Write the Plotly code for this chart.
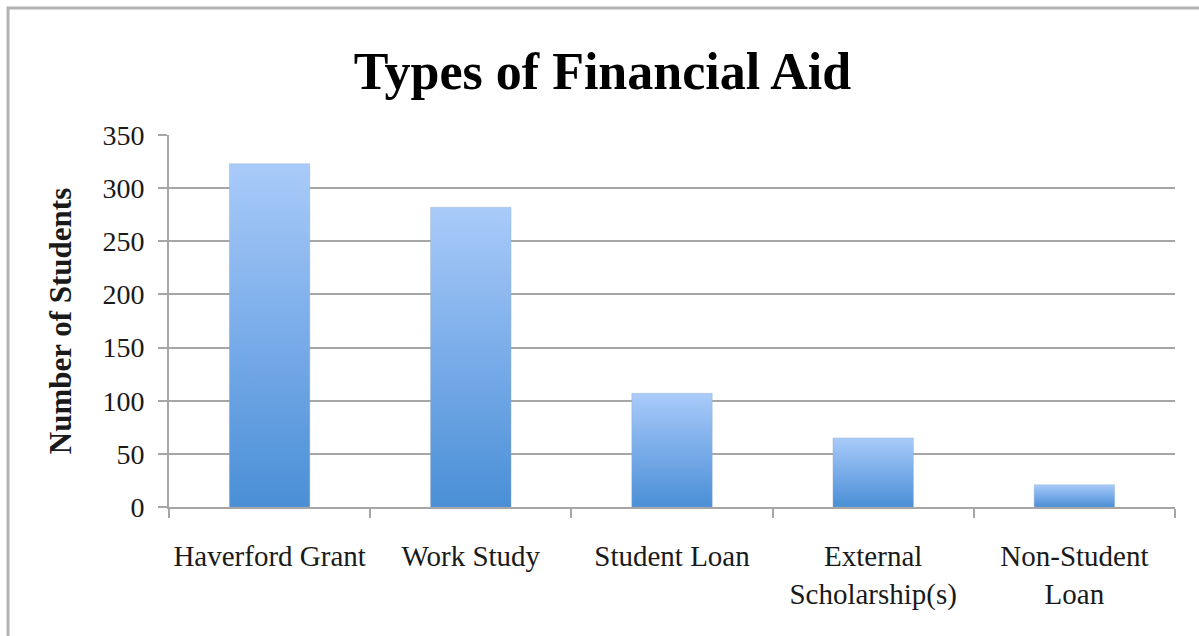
import plotly.graph_objects as go

# Financial aid categories and the number of students receiving each
categories = ["Haverford Grant", "Work Study", "Student Loan",
              "External<br>Scholarship(s)", "Non-Student<br>Loan"]
students = [323, 282, 107, 65, 21]
y_ticks = [0, 50, 100, 150, 200, 250, 300, 350]

BAR_HALF = 0.2          # half bar width in category units
GRAD = [[0.0, "#4a8fd6"], [0.5, "#79ace9"], [1.0, "#a9cbf9"]]

fig = go.Figure()

# each bar is a filled polygon so it can carry its own vertical gradient
for i, v in enumerate(students):
    fig.add_trace(go.Scatter(
        x=[i - BAR_HALF, i + BAR_HALF, i + BAR_HALF, i - BAR_HALF, i - BAR_HALF],
        y=[0, 0, v, v, 0],
        mode="lines",
        fill="toself",
        fillgradient=dict(type="vertical", colorscale=GRAD),
        line=dict(color="rgba(150,170,200,0.35)", width=1),
        hoverinfo="skip",
        showlegend=False,
    ))

n = len(categories)
fig.update_layout(
    width=1199, height=636,
    margin=dict(l=169, r=24, t=135, b=129),
    paper_bgcolor="white", plot_bgcolor="white",
    title=dict(text="<b>Types of Financial Aid</b>",
               font=dict(family="Liberation Serif", size=52, color="black"),
               x=0.5025, xref="container", xanchor="center",
               y=0.888, yref="container", yanchor="middle"),
    font=dict(family="Liberation Serif", color="#1a1a1a"),
    xaxis=dict(
        range=[-0.5, n - 0.5],
        tickvals=list(range(n)), ticktext=categories,
        ticks="", tickfont=dict(size=29, color="#1a1a1a"),
        ticklabelstandoff=22,
        showgrid=False, zeroline=False,
        showline=True, linecolor="#a6a6a6", linewidth=2,
        minor=dict(tickvals=[i - 0.5 for i in range(n + 1)],
                   ticks="outside", ticklen=9, tickwidth=2,
                   tickcolor="#a6a6a6", showgrid=False),
        fixedrange=True,
    ),
    yaxis=dict(
        range=[0, 350], tickvals=y_ticks,
        ticks="outside", ticklen=9, tickwidth=2, tickcolor="#a6a6a6",
        tickfont=dict(size=28, color="#1a1a1a"),
        ticklabelstandoff=8,
        showgrid=True, gridcolor="#a6a6a6", gridwidth=2,
        zeroline=False,
        showline=True, linecolor="#a6a6a6", linewidth=2,
        title=dict(text="<b>Number of Students</b>",
                   font=dict(family="Liberation Serif", size=31, color="#1a1a1a"),
                   standoff=22),
        fixedrange=True,
    ),
    shapes=[dict(type="rect", xref="paper", yref="paper",
                 x0=-0.16, x1=1.3, y0=-0.6, y1=1.3414,
                 line=dict(color="#b3b3b3", width=3),
                 fillcolor="rgba(0,0,0,0)", layer="below")],
)

fig.write_html("out.html")
